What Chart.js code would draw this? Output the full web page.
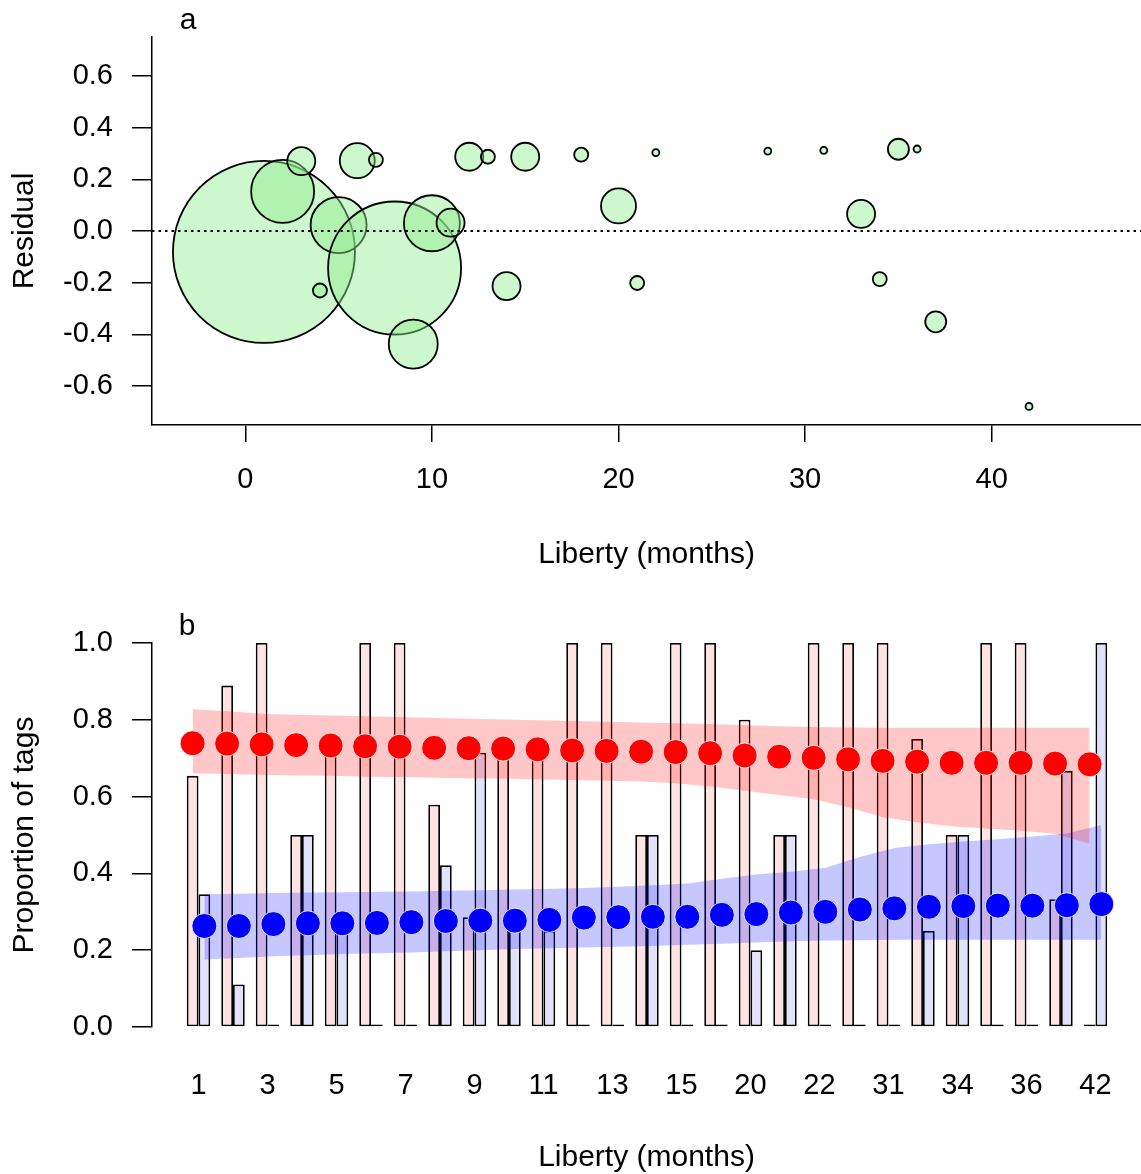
<!DOCTYPE html>
<html>
<head>
  <meta charset="utf-8">
  <title>Residuals and proportion of tags</title>
  <script src="https://cdn.jsdelivr.net/npm/chart.js"></script>
  <style>
    body { margin: 0; background: #fff; overflow: hidden; }
    .panel { position: absolute; left: 0; width: 1141px; }
    #wrapA { top: 0; height: 590px; }
    #wrapB { top: 590px; height: 590px; }
  </style>
</head>
<body>
  <div class="panel" id="wrapA"><canvas id="residualChart"></canvas></div>
  <div class="panel" id="wrapB"><canvas id="proportionChart"></canvas></div>

  <script>
    // Liberty categories (months) shared by both panels
    const libertyMonths = [1, 2, 3, 4, 5, 6, 7, 8, 9, 10, 11, 12, 13, 14, 15, 18, 20, 21, 22, 28, 31, 33, 34, 35, 36, 37, 42];

    // Panel a: residual and number of tags per liberty month
    const residuals = [-0.081, 0.153, 0.270, -0.230, 0.023, 0.272, 0.275, -0.143, -0.437, 0.030, 0.032, 0.287, 0.287, -0.213, 0.287, 0.295, 0.097, -0.201, 0.303, 0.309, 0.312, 0.066, -0.186, 0.316, 0.317, -0.351, -0.678];
    const tagCounts = [26, 9, 4, 2, 8, 5, 2, 19, 7, 8, 4, 4, 2, 4, 4, 2, 5, 2, 1, 1, 1, 4, 2, 3, 1, 3, 1];
    const residualTicks = [-0.6, -0.4, -0.2, 0, 0.2, 0.4, 0.6];
    const monthTicks = [0, 10, 20, 30, 40];

    // Panel b: observed proportions (bars)
    const observedRed = [0.654, 0.889, 1, 0.5, 0.75, 1, 1, 0.579, 0.286, 0.75, 0.75, 1, 1, 0.5, 1, 1, 0.8, 0.5, 1, 1, 1, 0.75, 0.5, 1, 1, 0.333, 0];
    const observedBlue = [0.346, 0.111, 0, 0.5, 0.25, 0, 0, 0.421, 0.714, 0.25, 0.25, 0, 0, 0.5, 0, 0, 0.2, 0.5, 0, 0, 0, 0.25, 0.5, 0, 0, 0.667, 1];

    // Panel b: predicted proportions (dots) and their intervals (bands)
    const predictedRed = [0.739, 0.738, 0.736, 0.734, 0.733, 0.731, 0.730, 0.727, 0.726, 0.725, 0.723, 0.720, 0.719, 0.717, 0.716, 0.713, 0.707, 0.704, 0.701, 0.697, 0.693, 0.691, 0.688, 0.688, 0.688, 0.686, 0.684];
    const predictedBlue = [0.263, 0.263, 0.268, 0.270, 0.270, 0.271, 0.273, 0.276, 0.277, 0.277, 0.279, 0.285, 0.286, 0.287, 0.287, 0.292, 0.294, 0.298, 0.300, 0.306, 0.309, 0.313, 0.315, 0.316, 0.316, 0.317, 0.320];
    const redUpper = [0.828, 0.822, 0.816, 0.813, 0.811, 0.809, 0.807, 0.805, 0.803, 0.801, 0.799, 0.797, 0.795, 0.793, 0.791, 0.789, 0.786, 0.783, 0.781, 0.780, 0.779, 0.779, 0.779, 0.779, 0.779, 0.779, 0.779];
    const redLower = [0.661, 0.659, 0.657, 0.655, 0.654, 0.652, 0.651, 0.649, 0.648, 0.647, 0.645, 0.643, 0.641, 0.639, 0.635, 0.626, 0.615, 0.604, 0.593, 0.572, 0.546, 0.533, 0.523, 0.517, 0.511, 0.503, 0.477];
    const blueUpper = [0.346, 0.347, 0.349, 0.350, 0.351, 0.352, 0.353, 0.355, 0.356, 0.358, 0.360, 0.362, 0.365, 0.369, 0.374, 0.386, 0.397, 0.404, 0.415, 0.443, 0.466, 0.476, 0.483, 0.489, 0.496, 0.504, 0.526];
    const blueLower = [0.176, 0.180, 0.184, 0.187, 0.190, 0.192, 0.194, 0.197, 0.200, 0.203, 0.205, 0.207, 0.209, 0.211, 0.214, 0.217, 0.220, 0.223, 0.225, 0.226, 0.227, 0.227, 0.227, 0.227, 0.227, 0.227, 0.227];
    const proportionTicks = [0, 0.2, 0.4, 0.6, 0.8, 1.0];

    // Styling
    const fontFamily = '"Liberation Sans", Arial, sans-serif';
    const tickFont = { family: fontFamily, size: 29 };
    const titleFont = { family: fontFamily, size: 30 };
    const bubblePxPerTag = 3.5;
    const categoryPct = 0.68;
    const barShift = categoryPct / 4; // centre of each bar inside its pair

    // Draws the panel letter (a / b)
    const panelLetter = {
      id: 'panelLetter',
      afterDraw(chart, args, opts) {
        const ctx = chart.ctx;
        ctx.save();
        ctx.font = '30px ' + fontFamily;
        ctx.fillStyle = '#000';
        ctx.textAlign = 'center';
        ctx.textBaseline = 'alphabetic';
        ctx.fillText(opts.text, opts.x, opts.y);
        ctx.restore();
      }
    };

    // Dotted reference line at residual 0
    const zeroLine = {
      id: 'zeroLine',
      afterDatasetsDraw(chart) {
        const ctx = chart.ctx;
        const y = chart.scales.y.getPixelForValue(0);
        ctx.save();
        ctx.strokeStyle = '#000';
        ctx.lineWidth = 2;
        ctx.setLineDash([2.5, 4]);
        ctx.beginPath();
        ctx.moveTo(chart.chartArea.left, y);
        ctx.lineTo(chart.chartArea.right, y);
        ctx.stroke();
        ctx.restore();
      }
    };

    // Panel a: bubble chart of residuals
    new Chart(document.getElementById('residualChart'), {
      type: 'bubble',
      data: {
        datasets: [{
          data: libertyMonths.map((m, i) => ({ x: m, y: residuals[i], r: tagCounts[i] * bubblePxPerTag })),
          backgroundColor: 'rgba(144, 238, 144, 0.45)',
          borderColor: '#000',
          borderWidth: 1.8,
          hoverRadius: 0
        }]
      },
      options: {
        responsive: true,
        maintainAspectRatio: false,
        animation: false,
        layout: { autoPadding: false, padding: { top: 37, left: 0, right: 0, bottom: 0 } },
        plugins: {
          legend: { display: false },
          tooltip: { enabled: false },
          panelLetter: { text: 'a', x: 188, y: 29 }
        },
        scales: {
          x: {
            type: 'linear',
            min: -5,
            max: 48,
            afterBuildTicks: ax => { ax.ticks = monthTicks.map(v => ({ value: v })); },
            afterFit: ax => { ax.height = 165; ax.paddingLeft = 0; ax.paddingRight = 0; },
            grid: { drawOnChartArea: false, drawTicks: true, tickLength: 17, color: '#000', lineWidth: 1.5 },
            border: { display: true, color: '#000', width: 1.5 },
            ticks: { color: '#000', font: tickFont, padding: 21, maxRotation: 0 },
            title: { display: true, text: 'Liberty (months)', color: '#000', font: titleFont, padding: { bottom: 17 } }
          },
          y: {
            min: -0.75,
            max: 0.75,
            afterBuildTicks: ax => { ax.ticks = residualTicks.map(v => ({ value: v })); },
            afterFit: ax => { ax.width = 152; },
            grid: { drawOnChartArea: false, drawTicks: true, tickLength: 20, color: '#000', lineWidth: 1.5 },
            border: { display: true, color: '#000', width: 1.5 },
            ticks: { color: '#000', font: tickFont, padding: 19, callback: v => v.toFixed(1) },
            title: { display: true, text: 'Residual', color: '#000', font: titleFont, padding: { top: 7 } }
          }
        }
      },
      plugins: [panelLetter, zeroLine]
    });

    // Panel b: observed bars, predicted dots and interval bands
    const barStyle = {
      type: 'bar',
      borderColor: '#000',
      borderWidth: 1.8,
      borderSkipped: false,
      minBarLength: 2.5,
      categoryPercentage: categoryPct,
      barPercentage: 1,
      order: 3
    };
    const bandStyle = { type: 'line', borderWidth: 0, pointRadius: 0, tension: 0, order: 2 };
    const dotStyle = { type: 'line', showLine: false, pointRadius: 12.5, pointBorderWidth: 1, pointBorderColor: 'rgba(255,255,255,0.85)', order: 1 };

    const idx = libertyMonths.map((m, i) => i);

    new Chart(document.getElementById('proportionChart'), {
      type: 'bar',
      data: {
        datasets: [
          Object.assign({}, barStyle, { data: idx.map(i => ({ x: i, y: observedRed[i] })), backgroundColor: 'rgb(255, 226, 226)' }),
          Object.assign({}, barStyle, { data: idx.map(i => ({ x: i, y: observedBlue[i] })), backgroundColor: 'rgb(226, 226, 250)' }),
          Object.assign({}, bandStyle, { data: idx.map(i => ({ x: i - barShift, y: redUpper[i] })), fill: '+1', backgroundColor: 'rgba(255, 0, 0, 0.22)' }),
          Object.assign({}, bandStyle, { data: idx.map(i => ({ x: i - barShift, y: redLower[i] })), fill: false }),
          Object.assign({}, bandStyle, { data: idx.map(i => ({ x: i + barShift, y: blueUpper[i] })), fill: '+1', backgroundColor: 'rgba(0, 0, 255, 0.22)' }),
          Object.assign({}, bandStyle, { data: idx.map(i => ({ x: i + barShift, y: blueLower[i] })), fill: false }),
          Object.assign({}, dotStyle, { data: idx.map(i => ({ x: i - barShift, y: predictedRed[i] })), pointBackgroundColor: 'rgb(255, 0, 0)' }),
          Object.assign({}, dotStyle, { data: idx.map(i => ({ x: i + barShift, y: predictedBlue[i] })), pointBackgroundColor: 'rgb(0, 0, 255)' })
        ]
      },
      options: {
        responsive: true,
        maintainAspectRatio: false,
        animation: false,
        layout: { autoPadding: false, padding: { top: 53, left: 0, right: 0, bottom: 0 } },
        plugins: {
          legend: { display: false },
          tooltip: { enabled: false },
          panelLetter: { text: 'b', x: 187, y: 45 }
        },
        scales: {
          x: {
            type: 'linear',
            offset: false,
            min: -1.348,
            max: 27.32,
            afterBuildTicks: ax => { ax.ticks = idx.filter(i => i % 2 === 0).map(v => ({ value: v })); },
            afterFit: ax => { ax.height = 153; ax.paddingLeft = 0; ax.paddingRight = 0; },
            grid: { display: false, drawTicks: false, offset: false },
            border: { display: false },
            ticks: { color: '#000', font: tickFont, padding: 42, maxRotation: 0, autoSkip: false, callback: v => libertyMonths[v] },
            title: { display: true, text: 'Liberty (months)', color: '#000', font: titleFont, padding: { bottom: 4 } }
          },
          y: {
            min: 0,
            max: 1,
            afterBuildTicks: ax => { ax.ticks = proportionTicks.map(v => ({ value: v })); },
            afterFit: ax => { ax.width = 152; },
            grid: { drawOnChartArea: false, drawTicks: true, tickLength: 20, color: '#000', lineWidth: 1.5 },
            border: { display: true, color: '#000', width: 1.5 },
            ticks: { color: '#000', font: tickFont, padding: 19, callback: v => v.toFixed(1) },
            title: { display: true, text: 'Proportion of tags', color: '#000', font: titleFont, padding: { top: 7 } }
          }
        }
      },
      plugins: [panelLetter]
    });
  </script>
</body>
</html>
